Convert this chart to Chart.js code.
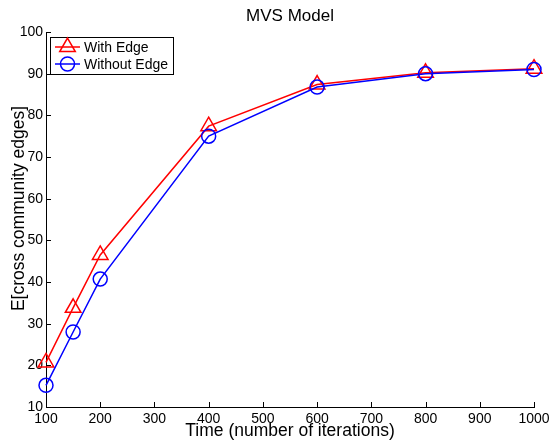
<!DOCTYPE html>
<html>
<head>
<meta charset="utf-8">
<script src="https://cdn.jsdelivr.net/npm/chart.js@4"></script>
<style>
  html, body { margin: 0; padding: 0; background: #fff; }
  #wrap { width: 552px; height: 444px; }
</style>
</head>
<body>
<div id="wrap"><canvas id="chart" width="552" height="444"></canvas></div>
<script>
const iterations = [100, 150, 200, 400, 600, 800, 1000];
const withEdge = [20.7, 33.8, 46.5, 77.4, 87.4, 90.2, 91.2];
const withoutEdge = [15.2, 28, 40.7, 75, 86.8, 90, 91];
const xTicks = [100, 200, 300, 400, 500, 600, 700, 800, 900, 1000];
const yTicks = [10, 20, 30, 40, 50, 60, 70, 80, 90, 100];

const font = "'Liberation Sans', Arial, Helvetica, sans-serif";
const chartTitle = "MVS Model";
const yTitle = "E[cross community edges]";

// matlab style inward tick marks, title over the axes and y label
const axesDecor = {
  id: "axesDecor",
  afterDraw(chart) {
    const ctx = chart.ctx;
    const area = chart.chartArea;
    const x = chart.scales.x, y = chart.scales.y;
    ctx.save();
    ctx.strokeStyle = "#000";
    ctx.lineWidth = 1;
    ctx.beginPath();
    xTicks.forEach(v => {
      const px = Math.round(x.getPixelForValue(v)) + 0.5;
      ctx.moveTo(px, area.bottom);
      ctx.lineTo(px, area.bottom - 5);
    });
    yTicks.forEach(v => {
      const py = Math.round(y.getPixelForValue(v)) + 0.5;
      ctx.moveTo(area.left, py);
      ctx.lineTo(area.left + 5, py);
    });
    ctx.stroke();

    ctx.fillStyle = "#000";
    ctx.textAlign = "center";
    ctx.textBaseline = "middle";
    ctx.font = "17px " + font;
    ctx.fillText(chartTitle, (area.left + area.right) / 2, 16);

    ctx.translate(19, (area.top + area.bottom) / 2 - 11);
    ctx.rotate(-Math.PI / 2);
    ctx.font = "17.5px " + font;
    ctx.fillText(yTitle, 0, 0);
    ctx.restore();
  }
};

// legend box in upper left corner
const boxLegend = {
  id: "boxLegend",
  afterDraw(chart) {
    const ctx = chart.ctx;
    const area = chart.chartArea;
    const bx = area.left + 4, by = area.top + 5;
    ctx.save();
    ctx.fillStyle = "#fff";
    ctx.fillRect(bx, by, 123, 37);
    ctx.strokeStyle = "#000";
    ctx.lineWidth = 1;
    ctx.strokeRect(bx + 0.5, by + 0.5, 123, 37);
    chart.data.datasets.slice().sort((a, b) => a.legendIndex - b.legendIndex).forEach((ds, i) => {
      const cy = by + 10 + i * 17;
      ctx.strokeStyle = ds.borderColor;
      ctx.lineWidth = 1.5;
      ctx.beginPath();
      ctx.moveTo(bx + 5, cy);
      ctx.lineTo(bx + 30, cy);
      ctx.stroke();
      ctx.fillStyle = "rgba(0,0,0,0)";
      Chart.helpers.drawPoint(ctx, { pointStyle: ds.pointStyle, radius: ds.pointRadius, borderWidth: 1.5 }, bx + 17.5, cy);
      ctx.fillStyle = "#000";
      ctx.font = "14px " + font;
      ctx.textBaseline = "middle";
      ctx.fillText(ds.label, bx + 34, cy + 1);
    });
    ctx.restore();
  }
};

new Chart(document.getElementById("chart"), {
  type: "line",
  data: {
    datasets: [
      {
        label: "Without Edge",
        legendIndex: 1,
        data: iterations.map((t, i) => ({ x: t, y: withoutEdge[i] })),
        borderColor: "#0000ff",
        backgroundColor: "rgba(0,0,0,0)",
        borderWidth: 1.5,
        pointStyle: "circle",
        pointRadius: 7,
        pointBorderWidth: 1.5,
        pointBackgroundColor: "rgba(0,0,0,0)",
        clip: false,
        tension: 0
      },
      {
        label: "With Edge",
        legendIndex: 0,
        data: iterations.map((t, i) => ({ x: t, y: withEdge[i] })),
        borderColor: "#ff0000",
        backgroundColor: "rgba(0,0,0,0)",
        borderWidth: 1.5,
        pointStyle: "triangle",
        pointRadius: 9,
        pointBorderWidth: 1.5,
        pointBackgroundColor: "rgba(0,0,0,0)",
        clip: false,
        tension: 0
      }
    ]
  },
  options: {
    responsive: false,
    animation: false,
    layout: { padding: { left: 0, right: 18, top: 32, bottom: 0 } },
    plugins: {
      legend: { display: false },
      tooltip: { enabled: false },
      title: { display: false }
    },
    scales: {
      x: {
        type: "linear",
        min: 100,
        max: 1000,
        afterBuildTicks: s => { s.ticks = xTicks.map(v => ({ value: v })); },
        afterFit: s => { s.height = 37; s.paddingLeft = 0; s.paddingRight = 0; },
        grid: { display: false, drawTicks: false },
        border: { display: true, color: "#000", width: 1 },
        ticks: { color: "#000", font: { family: font, size: 14 }, padding: 4, maxRotation: 0, callback: v => String(v) },
        title: {
          display: true,
          text: "Time (number of iterations)",
          color: "#000",
          font: { family: font, size: 17.5 },
          padding: { top: 0, bottom: 2 }
        }
      },
      y: {
        type: "linear",
        min: 10,
        max: 100,
        afterBuildTicks: s => { s.ticks = yTicks.map(v => ({ value: v })); },
        afterFit: s => { s.width = 46; s.paddingTop = 0; s.paddingBottom = 0; },
        grid: { display: false, drawTicks: false },
        border: { display: true, color: "#000", width: 1 },
        ticks: { color: "#000", font: { family: font, size: 14 }, padding: 3, callback: v => String(v) },
        title: { display: false }
      }
    }
  },
  plugins: [axesDecor, boxLegend]
});
</script>
</body>
</html>
